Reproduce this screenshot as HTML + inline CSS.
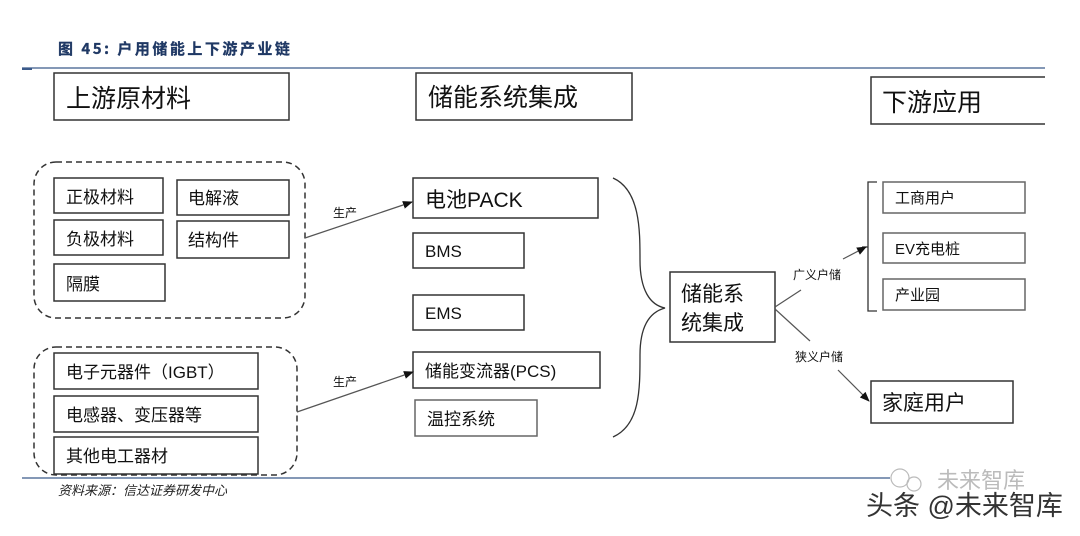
<!DOCTYPE html>
<html><head><meta charset="utf-8"><style>
html,body{margin:0;padding:0;background:#fff;}
svg text{font-family:"Liberation Sans","Noto Sans CJK SC",sans-serif;fill:#111;}
</style></head><body>
<svg width="1080" height="531" viewBox="0 0 1080 531" xmlns="http://www.w3.org/2000/svg">
<defs><marker id="ar" markerWidth="10" markerHeight="8" refX="9" refY="4" orient="auto" markerUnits="userSpaceOnUse"><path d="M0,0 L10,4 L0,8 Z" fill="#111"/></marker></defs>
<text x="58" y="54" font-size="15" font-weight="bold" letter-spacing="2.5" style="fill:#1f3864;font-family:'Noto Sans CJK SC','Liberation Serif',serif;stroke:#1f3864;stroke-width:0.3">图 45:  户用储能上下游产业链</text>
<line x1="22" y1="68" x2="1045" y2="68" stroke="#3b5a8a" stroke-width="1.2"/>
<line x1="22" y1="69" x2="32" y2="69" stroke="#3b5a8a" stroke-width="2"/>
<g fill="none" stroke="#333" stroke-width="1.5">
<rect x="54" y="73" width="235" height="47"/>
<rect x="416" y="73" width="216" height="47"/>
<path d="M1045,77 H871 V124 H1045"/>
<rect x="34" y="162" width="271" height="156" rx="22" stroke-dasharray="6,4"/>
<rect x="34" y="347" width="263" height="128" rx="22" stroke-dasharray="6,4"/>
<rect x="54" y="178" width="109" height="35"/>
<rect x="177" y="180" width="112" height="35"/>
<rect x="54" y="220" width="109" height="35"/>
<rect x="177" y="221" width="112" height="37"/>
<rect x="54" y="264" width="111" height="37"/>
<rect x="54" y="353" width="204" height="36"/>
<rect x="54" y="396" width="204" height="36"/>
<rect x="54" y="437" width="204" height="37"/>
<rect x="413" y="178" width="185" height="40"/>
<rect x="413" y="233" width="111" height="35"/>
<rect x="413" y="295" width="111" height="35"/>
<rect x="413" y="352" width="187" height="36"/>
<rect x="415" y="400" width="122" height="36" stroke="#666"/>
<rect x="670" y="272" width="105" height="70"/>
<rect x="883" y="182" width="142" height="31" stroke="#666"/>
<rect x="883" y="233" width="142" height="30" stroke="#666"/>
<rect x="883" y="279" width="142" height="31" stroke="#666"/>
<rect x="871" y="381" width="142" height="42"/>
<path d="M613,178 C640,190 640,230 640,260 C640,290 650,305 665,308 C650,312 640,325 640,355 C640,390 640,425 613,437" stroke-width="1.3"/>
<path d="M877,182 H868 V311 H877 M868,247 H862" stroke-width="1.3"/>
</g>
<g stroke="#555" stroke-width="1.2" fill="none">
<line x1="305" y1="238" x2="412" y2="202" marker-end="url(#ar)"/>
<line x1="297" y1="412" x2="413" y2="372" marker-end="url(#ar)"/>
<line x1="775" y1="307" x2="801" y2="290"/>
<line x1="843" y1="259" x2="866" y2="247" marker-end="url(#ar)"/>
<line x1="775" y1="309" x2="810" y2="341"/>
<line x1="838" y1="370" x2="869" y2="401" marker-end="url(#ar)"/>
</g>
<text x="66" y="107" font-size="25">上游原材料</text>
<text x="428" y="106" font-size="25">储能系统集成</text>
<text x="882" y="111" font-size="25">下游应用</text>
<text x="66" y="203" font-size="17">正极材料</text>
<text x="188" y="204" font-size="17">电解液</text>
<text x="66" y="245" font-size="17">负极材料</text>
<text x="188" y="246" font-size="17">结构件</text>
<text x="66" y="290" font-size="17">隔膜</text>
<text x="66" y="378" font-size="17">电子元器件（IGBT）</text>
<text x="66" y="421" font-size="17">电感器、变压器等</text>
<text x="66" y="462" font-size="17">其他电工器材</text>
<text x="333" y="217" font-size="12">生产</text>
<text x="333" y="386" font-size="12">生产</text>
<text x="425" y="207" font-size="21">电池PACK</text>
<text x="425" y="257" font-size="17">BMS</text>
<text x="425" y="319" font-size="17">EMS</text>
<text x="425" y="377" font-size="17">储能变流器(PCS)</text>
<text x="427" y="425" font-size="17">温控系统</text>
<text x="681" y="301" font-size="21">储能系</text>
<text x="681" y="330" font-size="21">统集成</text>
<text x="793" y="279" font-size="12">广义户储</text>
<text x="795" y="361" font-size="12">狭义户储</text>
<text x="895" y="203" font-size="15">工商用户</text>
<text x="895" y="254" font-size="15">EV充电桩</text>
<text x="895" y="300" font-size="15">产业园</text>
<text x="882" y="410" font-size="21">家庭用户</text>
<line x1="22" y1="478" x2="890" y2="478" stroke="#3b5a8a" stroke-width="1.2"/>
<text x="58" y="495" font-size="13" font-style="italic" style="fill:#222">资料来源：信达证券研发中心</text>
<circle cx="900" cy="478" r="9" fill="none" stroke="#bbb" stroke-width="1.2"/>
<circle cx="914" cy="484" r="7" fill="none" stroke="#bbb" stroke-width="1.2"/>
<text x="937" y="488" font-size="22" style="fill:#bbb">未来智库</text>
<text x="866" y="515" font-size="27" style="fill:#333">头条 @未来智库</text>
</svg>
</body></html>
